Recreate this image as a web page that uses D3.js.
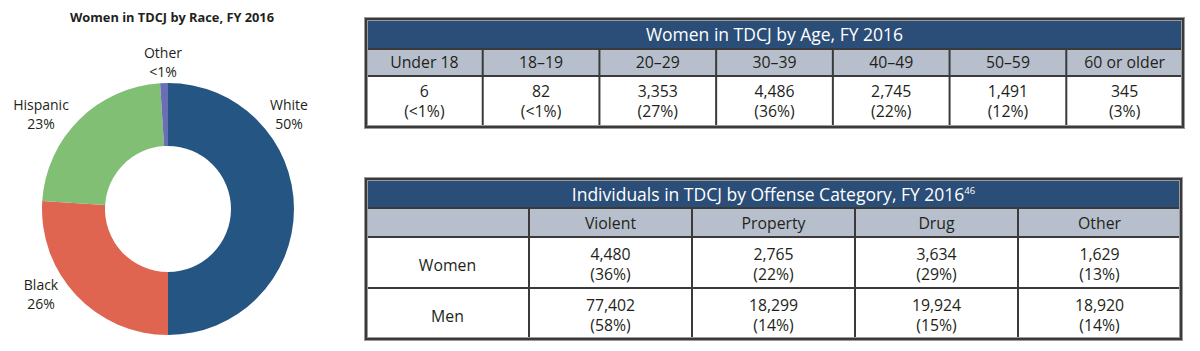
<!DOCTYPE html>
<html>
<head>
<meta charset="utf-8">
<script src="https://cdn.jsdelivr.net/npm/d3@7"></script>
<style>
  body { margin: 0; background: #fff; }
  svg text { font-family: "Open Sans", "Noto Sans", sans-serif; fill: #231f20; }
</style>
</head>
<body>
<div id="chart"></div>
<script>
// race donut data
const races = ["White", "Black", "Hispanic", "Other"];
const racePct = [50, 26, 23, 1];
const raceLabels = ["50%", "26%", "23%", "<1%"];

// age table data
const ageGroups = ["Under 18", "18\u201319", "20\u201329", "30\u201339", "40\u201349", "50\u201359", "60 or older"];
const ageCounts = ["6", "82", "3,353", "4,486", "2,745", "1,491", "345"];
const agePct = ["(<1%)", "(<1%)", "(27%)", "(36%)", "(22%)", "(12%)", "(3%)"];

// offense table data
const offenses = ["Violent", "Property", "Drug", "Other"];
const sexes = ["Women", "Men"];
const womenCounts = ["4,480", "2,765", "3,634", "1,629"];
const womenPct = ["(36%)", "(22%)", "(29%)", "(13%)"];
const menCounts = ["77,402", "18,299", "19,924", "18,920"];
const menPct = ["(58%)", "(14%)", "(15%)", "(14%)"];

const W = 1200, H = 351;
const svg = d3.select("#chart").append("svg")
    .attr("width", W)
    .attr("height", H);

const navy = "#2a4e77", headGray = "#b7bfcc", lineCol = "#3a3a3a";
const cellFont = "15.8px", titleFont = "17.5px";

// ---------- donut ----------
const color = d3.scaleOrdinal()
    .domain(races)
    .range(["#245583", "#e06551", "#80bf74", "#6a6fb5"]);

svg.append("text")
    .attr("x", 172).attr("y", 22)
    .attr("text-anchor", "middle")
    .style("font-size", "12.8px")
    .style("font-weight", "bold")
    .text("Women in TDCJ by Race, FY 2016");

const cx = 168, cy = 209;
const pie = d3.pie().sort(null).value(d => d.v);
const arc = d3.arc().innerRadius(63).outerRadius(126);
const raceData = races.map((r, i) => ({ name: r, v: racePct[i], lab: raceLabels[i] }));

const donut = svg.append("g").attr("transform", `translate(${cx},${cy})`);
donut.selectAll("path")
    .data(pie(raceData))
    .join("path")
    .attr("d", arc)
    .attr("fill", d => color(d.data.name));

// label anchors (relative to donut centre)
const labelPos = { White: [121, -99], Black: [-127, 81], Hispanic: [-127, -99], Other: [-5, -151] };
raceData.forEach(d => {
    const [lx, ly] = labelPos[d.name];
    const t = donut.append("text")
        .attr("text-anchor", "middle")
        .style("font-size", "14px");
    t.append("tspan").attr("x", lx).attr("y", ly).text(d.name);
    t.append("tspan").attr("x", lx).attr("y", ly + 19).text(d.lab);
});

// ---------- helper for a table frame ----------
function frame(g, x0, x1, rowsY) {
    const y0 = rowsY[0], y1 = rowsY[rowsY.length - 1];
    g.append("rect")
        .attr("x", x0).attr("y", y0)
        .attr("width", x1 - x0).attr("height", y1 - y0)
        .attr("fill", "none")
        .attr("stroke", "#9a9a9a")
        .attr("stroke-width", 4);
    g.append("rect")
        .attr("x", x0).attr("y", y0)
        .attr("width", x1 - x0).attr("height", y1 - y0)
        .attr("fill", "none")
        .attr("stroke", lineCol)
        .attr("stroke-width", 2);
}

// ---------- age table ----------
const t1 = svg.append("g");
const t1x0 = 366, t1x1 = 1183;
const t1Rows = [19, 49, 76, 127];
const x1 = d3.scaleBand().domain(ageGroups).range([t1x0, t1x1]);

t1.append("rect").attr("x", t1x0).attr("y", t1Rows[0])
    .attr("width", t1x1 - t1x0).attr("height", t1Rows[1] - t1Rows[0]).attr("fill", navy);
t1.append("rect").attr("x", t1x0).attr("y", t1Rows[1])
    .attr("width", t1x1 - t1x0).attr("height", t1Rows[2] - t1Rows[1]).attr("fill", headGray);
t1.append("text")
    .attr("x", (t1x0 + t1x1) / 2).attr("y", 41)
    .attr("text-anchor", "middle")
    .style("font-size", titleFont)
    .style("fill", "#fff")
    .text("Women in TDCJ by Age, FY 2016");

// horizontal rules
t1.selectAll("line.h").data(t1Rows.slice(1, -1)).join("line")
    .attr("x1", t1x0).attr("x2", t1x1)
    .attr("y1", d => d).attr("y2", d => d)
    .attr("stroke", lineCol).attr("stroke-width", 2);
// column rules
t1.selectAll("line.v").data(ageGroups.slice(1)).join("line")
    .attr("x1", d => x1(d)).attr("x2", d => x1(d))
    .attr("y1", t1Rows[1]).attr("y2", t1Rows[3])
    .attr("stroke", lineCol).attr("stroke-width", 2);

t1.selectAll("text.head").data(ageGroups).join("text")
    .attr("x", d => x1(d) + x1.bandwidth() / 2).attr("y", 68)
    .attr("text-anchor", "middle")
    .style("font-size", cellFont)
    .text(d => d);
t1.selectAll("text.cnt").data(ageGroups).join("text")
    .attr("x", d => x1(d) + x1.bandwidth() / 2).attr("y", 96.5)
    .attr("text-anchor", "middle")
    .style("font-size", cellFont)
    .text((d, i) => ageCounts[i]);
t1.selectAll("text.pct").data(ageGroups).join("text")
    .attr("x", d => x1(d) + x1.bandwidth() / 2).attr("y", 116.5)
    .attr("text-anchor", "middle")
    .style("font-size", cellFont)
    .text((d, i) => agePct[i]);
frame(t1, t1x0, t1x1, t1Rows);

// ---------- offense table ----------
const t2 = svg.append("g");
const t2x0 = 366, t2x1 = 1181;
const t2Rows = [179, 208, 237, 288, 339];
const x2 = d3.scaleBand().domain([""].concat(offenses)).range([t2x0, t2x1]);

t2.append("rect").attr("x", t2x0).attr("y", t2Rows[0])
    .attr("width", t2x1 - t2x0).attr("height", t2Rows[1] - t2Rows[0]).attr("fill", navy);
t2.append("rect").attr("x", t2x0).attr("y", t2Rows[1])
    .attr("width", t2x1 - t2x0).attr("height", t2Rows[2] - t2Rows[1]).attr("fill", headGray);
const title2 = t2.append("text")
    .attr("x", (t2x0 + t2x1) / 2).attr("y", 201)
    .attr("text-anchor", "middle")
    .style("font-size", titleFont)
    .style("fill", "#fff");
title2.append("tspan").style("fill", "#fff").text("Individuals in TDCJ by Offense Category, FY 2016");
title2.append("tspan").style("fill", "#fff").style("font-size", "9.5px").attr("dy", -7).text("46");

t2.selectAll("line.h").data(t2Rows.slice(1, -1)).join("line")
    .attr("x1", t2x0).attr("x2", t2x1)
    .attr("y1", d => d).attr("y2", d => d)
    .attr("stroke", lineCol).attr("stroke-width", 2);
t2.selectAll("line.v").data(offenses).join("line")
    .attr("x1", d => x2(d)).attr("x2", d => x2(d))
    .attr("y1", t2Rows[1]).attr("y2", t2Rows[4])
    .attr("stroke", lineCol).attr("stroke-width", 2);

t2.selectAll("text.head").data(offenses).join("text")
    .attr("x", d => x2(d) + x2.bandwidth() / 2).attr("y", 229)
    .attr("text-anchor", "middle")
    .style("font-size", cellFont)
    .text(d => d);

const rowData = [
    { sex: sexes[0], counts: womenCounts, pcts: womenPct },
    { sex: sexes[1], counts: menCounts, pcts: menPct }
];
rowData.forEach((r, ri) => {
    const top = t2Rows[2 + ri];
    t2.append("text")
        .attr("x", x2("") + x2.bandwidth() / 2).attr("y", top + 34)
        .attr("text-anchor", "middle")
        .style("font-size", cellFont)
        .text(r.sex);
    t2.selectAll(null).data(offenses).join("text")
        .attr("x", d => x2(d) + x2.bandwidth() / 2).attr("y", top + 23)
        .attr("text-anchor", "middle")
        .style("font-size", cellFont)
        .text((d, i) => r.counts[i]);
    t2.selectAll(null).data(offenses).join("text")
        .attr("x", d => x2(d) + x2.bandwidth() / 2).attr("y", top + 43)
        .attr("text-anchor", "middle")
        .style("font-size", cellFont)
        .text((d, i) => r.pcts[i]);
});
frame(t2, t2x0, t2x1, t2Rows);
</script>
</body>
</html>
